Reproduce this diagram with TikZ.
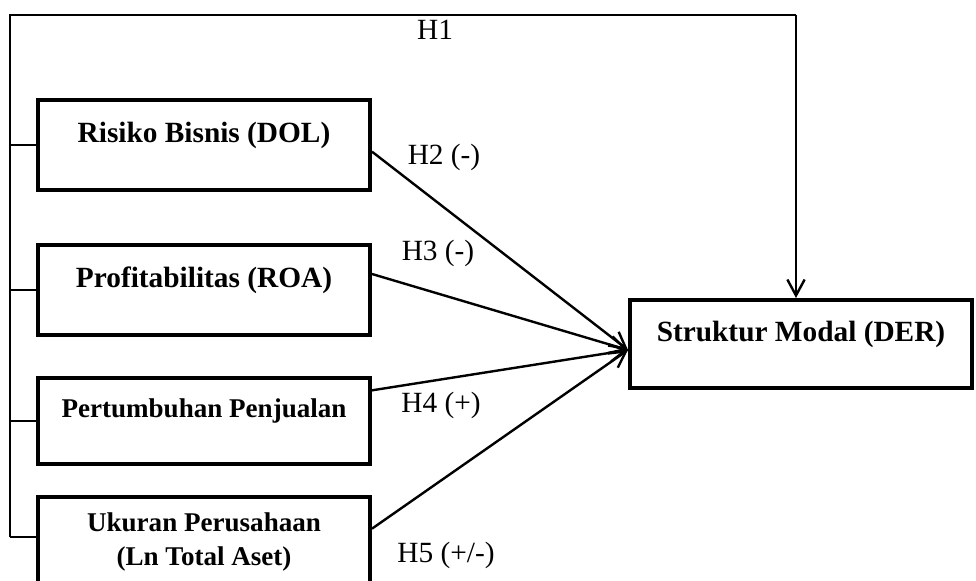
\documentclass[tikz,border=0pt]{standalone}
\usepackage{fontspec}
\setmainfont{Liberation Serif}
\usetikzlibrary{arrows.meta,calc}

\begin{document}
\begin{tikzpicture}[x=0.75pt,y=-0.75pt,>={Straight Barb[length=12pt,width=13pt]},
  font=\fontsize{22}{26}\selectfont]
 \tikzstyle{varbox} = [draw=black,line width=3pt,minimum width=249pt,minimum height=67.5pt,
   inner sep=0pt,font=\fontsize{22}{26}\selectfont\bfseries,align=center]
 \tikzstyle{onebox} = [varbox,text height=15pt,text depth=19pt]
 \tikzstyle{small} = [font=\fontsize{20.3}{26}\selectfont\bfseries]
 \tikzstyle{path} = [line width=1.8pt]
 \tikzstyle{hyp} = [inner sep=0pt]

  \clip (0,0) rectangle (976,581);

  % Boxes
  \node[onebox] (dol) at (204,145) {Risiko Bisnis (DOL)};
  \node[onebox] (roa) at (204,290) {Profitabilitas (ROA)};
  \node[onebox,small,minimum height=64.5pt,text depth=21pt] (growth) at (204,421) {Pertumbuhan Penjualan};
  \node[varbox,small] (size) at (204,542) {Ukuran Perusahaan\\(Ln Total Aset)};
  \node[onebox,minimum width=256.5pt,minimum height=66pt] (der) at (801,344) {Struktur Modal (DER)};

  % Joint path (H1)
  \coordinate (top) at (10,15);
  \coordinate (corner) at (796,15);
  \coordinate (bottom) at (10,537);
  \draw[line width=1pt] (bottom) -- (top) -- (corner);
  \draw[line width=1pt] (top |- dol.west) -- (dol.west);
  \draw[line width=1pt] (top |- roa.west) -- (roa.west);
  \draw[line width=1pt] (top |- growth.west) -- (growth.west);
  \draw[line width=1pt] (bottom) -- (bottom -| size.west);
  \draw[path,->] (corner) -- (corner |- der.north);

  % Partial paths
  \coordinate (tip) at ($(der.west)+(0,6)$);
  \draw[path,->] ([yshift=-5pt]dol.east) -- (tip);
  \draw[path,->] ([yshift=12pt]roa.east) -- (tip);
  \draw[path,->] ([yshift=23pt]growth.east) -- (tip);
  \draw[path,->] ([yshift=10pt]size.east) -- (tip);

  % Hypotheses
  \node[hyp] (h1) at (435,30) {H1};
  \node[hyp] (h2) at (444,157) {H2 (-)};
  \node[hyp] (h3) at (438,253) {H3 (-)};
  \node[hyp] (h4) at (441,405) {H4 (+)};
  \node[hyp] (h5) at (446,555) {H5 (+/-)};

\end{tikzpicture}
\end{document}
